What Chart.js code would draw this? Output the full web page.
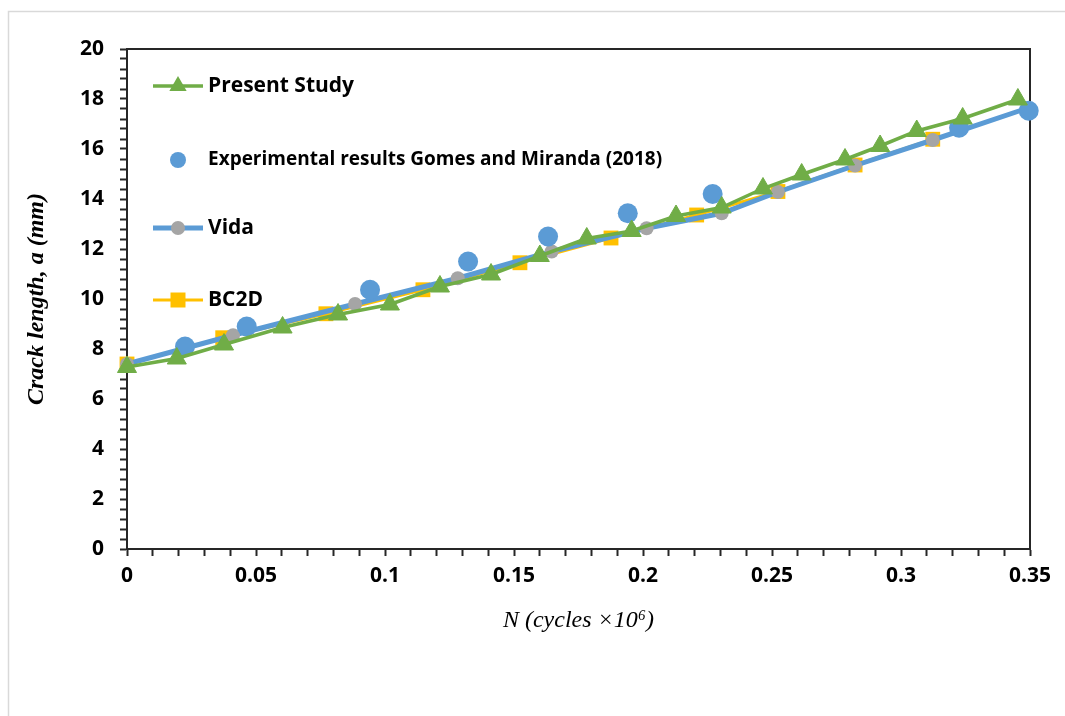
<!DOCTYPE html>
<html>
<head>
<meta charset="utf-8">
<script src="https://cdn.jsdelivr.net/npm/chart.js@4.4.0/dist/chart.umd.min.js"></script>
<style>
  html, body { margin: 0; padding: 0; background: #fff; }
  #wrap { width: 1065px; height: 716px; }
</style>
</head>
<body>
<div id="wrap"><canvas id="crackChart" width="1065" height="716"></canvas></div>
<script>
// values: N in cycles x10^6, crack length a in mm
const presentN = [0, 0.0193, 0.0376, 0.0603, 0.0818, 0.1019, 0.1213, 0.1411, 0.160, 0.1782,
  0.1956, 0.2128, 0.2305, 0.2465, 0.2615, 0.2783, 0.2919, 0.3061, 0.3239, 0.3453];
const presentA = [7.28, 7.62, 8.18, 8.86, 9.38, 9.78, 10.5, 10.98, 11.72, 12.42,
  12.72, 13.32, 13.66, 14.42, 14.98, 15.58, 16.12, 16.72, 17.22, 17.98];

const expN = [0.0225, 0.0464, 0.0942, 0.1322, 0.1632, 0.1941, 0.227, 0.3225, 0.3495];
const expA = [8.1, 8.9, 10.37, 11.5, 12.5, 13.43, 14.2, 16.85, 17.53];

const vidaN = [0, 0.0411, 0.0884, 0.1282, 0.1646, 0.2014, 0.2305, 0.2523, 0.2822, 0.3123, 0.3492];
const vidaA = [7.4, 8.55, 9.8, 10.83, 11.9, 12.83, 13.43, 14.28, 15.34, 16.36, 17.64];

const bc2dN = [0, 0.0371, 0.0771, 0.1147, 0.1523, 0.1876, 0.2208, 0.2523, 0.2822, 0.3123];
const bc2dA = [7.4, 8.45, 9.41, 10.37, 11.45, 12.44, 13.36, 14.3, 15.36, 16.39];

// axis ticks
const xMajorTicks = [0, 0.05, 0.1, 0.15, 0.2, 0.25, 0.3, 0.35];
const yMajorTicks = [0, 2, 4, 6, 8, 10, 12, 14, 16, 18, 20];
const xMinorStep = 0.01;
const yMinorStep = 0.4;

const toPoints = (xs, ys) => xs.map((x, i) => ({ x: x, y: ys[i] }));

function minorTicks(majors, step) {
  const out = [];
  const n = Math.round((majors[majors.length - 1] - majors[0]) / step);
  for (let i = 0; i <= n; i++) out.push({ value: Math.round((majors[0] + i * step) * 1000) / 1000 });
  return out;
}
const isMajor = (v, majors) => majors.some((m) => Math.abs(m - v) < 1e-6);

// frame around the whole figure
const figureFrame = {
  id: 'figureFrame',
  beforeDraw(chart) {
    const ctx = chart.ctx;
    ctx.save();
    ctx.fillStyle = '#fff';
    ctx.fillRect(0, 0, chart.width, chart.height);
    ctx.strokeStyle = '#d9d9d9';
    ctx.lineWidth = 1.5;
    ctx.strokeRect(8.5, 11.5, chart.width + 20, chart.height + 20);
    ctx.restore();
  },
  beforeDatasetsDraw(chart) {
    // top and right edges of the plot box
    const { ctx, chartArea: a } = chart;
    ctx.save();
    ctx.strokeStyle = '#262626';
    ctx.lineWidth = 2;
    ctx.beginPath();
    ctx.moveTo(a.left, a.top);
    ctx.lineTo(a.right, a.top);
    ctx.lineTo(a.right, a.bottom);
    ctx.stroke();
    ctx.restore();
  }
};

// legend drawn inside the plot, top-left, like the original
const insideLegend = {
  id: 'insideLegend',
  afterDatasetsDraw(chart) {
    const { ctx, chartArea: a } = chart;
    const rowY = [37, 111, 179, 251];
    chart.data.datasets.forEach((ds, i) => {
      const y = a.top + rowY[i];
      const x0 = a.left + 26, x1 = a.left + 76, xm = (x0 + x1) / 2;
      ctx.save();
      if (ds.showLine) {
        ctx.strokeStyle = ds.borderColor;
        ctx.lineWidth = ds.borderWidth;
        ctx.beginPath();
        ctx.moveTo(x0, y);
        ctx.lineTo(x1, y);
        ctx.stroke();
      }
      ctx.fillStyle = ds.pointBackgroundColor;
      ctx.beginPath();
      if (ds.pointStyle === 'triangle') {
        const r = 10;
        ctx.moveTo(xm, y - r);
        ctx.lineTo(xm + r * 0.866, y + r * 0.5);
        ctx.lineTo(xm - r * 0.866, y + r * 0.5);
        ctx.closePath();
      } else if (ds.pointStyle === 'rect') {
        ctx.rect(xm - 7.5, y - 7.5, 15, 15);
      } else {
        ctx.arc(xm, y, i === 1 ? 8 : 7, 0, Math.PI * 2);
      }
      ctx.fill();
      ctx.fillStyle = '#000';
      ctx.textBaseline = 'middle';
      ctx.font = i === 1 ? 'bold 19px "Open Sans"' : 'bold 21px "Open Sans"';
      ctx.fillText(ds.label, x1 + 5, y);
      ctx.restore();
    });
  }
};

const chartData = {
  datasets: [
    {
      label: 'Present Study',
      data: toPoints(presentN, presentA),
      showLine: true,
      borderColor: '#70AD47',
      borderWidth: 3.5,
      pointStyle: 'triangle',
      pointRadius: 11,
      pointBackgroundColor: '#70AD47',
      pointBorderColor: '#70AD47',
      pointBorderWidth: 1,
      clip: false,
    },
    {
      label: 'Experimental results Gomes and Miranda (2018)',
      data: toPoints(expN, expA),
      showLine: false,
      borderColor: '#5B9BD5',
      pointStyle: 'circle',
      pointRadius: 10,
      pointBackgroundColor: '#5B9BD5',
      pointBorderColor: '#5B9BD5',
      pointBorderWidth: 0,
      clip: false,
    },
    {
      label: 'Vida',
      data: toPoints(vidaN, vidaA),
      showLine: true,
      borderColor: '#5B9BD5',
      borderWidth: 5,
      pointStyle: 'circle',
      pointRadius: 7,
      pointBackgroundColor: '#A5A5A5',
      pointBorderColor: '#A5A5A5',
      pointBorderWidth: 0,
      clip: false,
    },
    {
      label: 'BC2D',
      data: toPoints(bc2dN, bc2dA),
      showLine: true,
      borderColor: '#FFC000',
      borderWidth: 3,
      pointStyle: 'rect',
      pointRadius: 10.5,
      pointBackgroundColor: '#FFC000',
      pointBorderColor: '#FFC000',
      pointBorderWidth: 0,
      clip: false,
    },
  ],
};

const tickFont = { family: 'Open Sans', size: 21, weight: 'bold' };

const chartConfig = {
  type: 'scatter',
  data: chartData,
  options: {
    responsive: false,
    animation: false,
    layout: { padding: { left: 0, top: 49, right: 35, bottom: 0 } },
    plugins: {
      legend: { display: false },
      tooltip: { enabled: false },
    },
    elements: { line: { tension: 0 } },
    scales: {
      x: {
        type: 'linear',
        min: 0,
        max: 0.35,
        afterBuildTicks: (axis) => { axis.ticks = minorTicks(xMajorTicks, xMinorStep); },
        afterFit: (scale) => { scale.height = 167; },
        ticks: {
          autoSkip: false,
          maxRotation: 0,
          padding: 7,
          color: '#000',
          font: tickFont,
          callback: (v) => (isMajor(v, xMajorTicks) ? String(parseFloat(v.toFixed(2))) : ''),
        },
        grid: { drawOnChartArea: false, tickLength: 7, tickWidth: 2, tickColor: '#262626' },
        border: { color: '#262626', width: 2 },
        title: {
          display: true,
          text: 'N (cycles \u00d710\u2076)',
          color: '#000',
          font: { family: 'Liberation Serif', size: 24, style: 'italic' },
          padding: { top: 0, bottom: 81 },
        },
      },
      y: {
        type: 'linear',
        min: 0,
        max: 20,
        afterBuildTicks: (axis) => { axis.ticks = minorTicks(yMajorTicks, yMinorStep); },
        afterFit: (scale) => { scale.width = 127; },
        ticks: {
          autoSkip: false,
          padding: 16,
          color: '#000',
          font: tickFont,
          callback: (v) => (isMajor(v, yMajorTicks) ? String(v) : ''),
        },
        grid: { drawOnChartArea: false, tickLength: 7, tickWidth: 2, tickColor: '#262626' },
        border: { color: '#262626', width: 2 },
        title: {
          display: true,
          text: 'Crack length, a (mm)',
          color: '#000',
          font: { family: 'Liberation Serif', size: 24, style: 'italic', weight: 'bold' },
          padding: { top: 22, bottom: 0 },
        },
      },
    },
  },
  plugins: [figureFrame, insideLegend],
};

const crackChart = new Chart(document.getElementById('crackChart'), chartConfig);
</script>
</body>
</html>
